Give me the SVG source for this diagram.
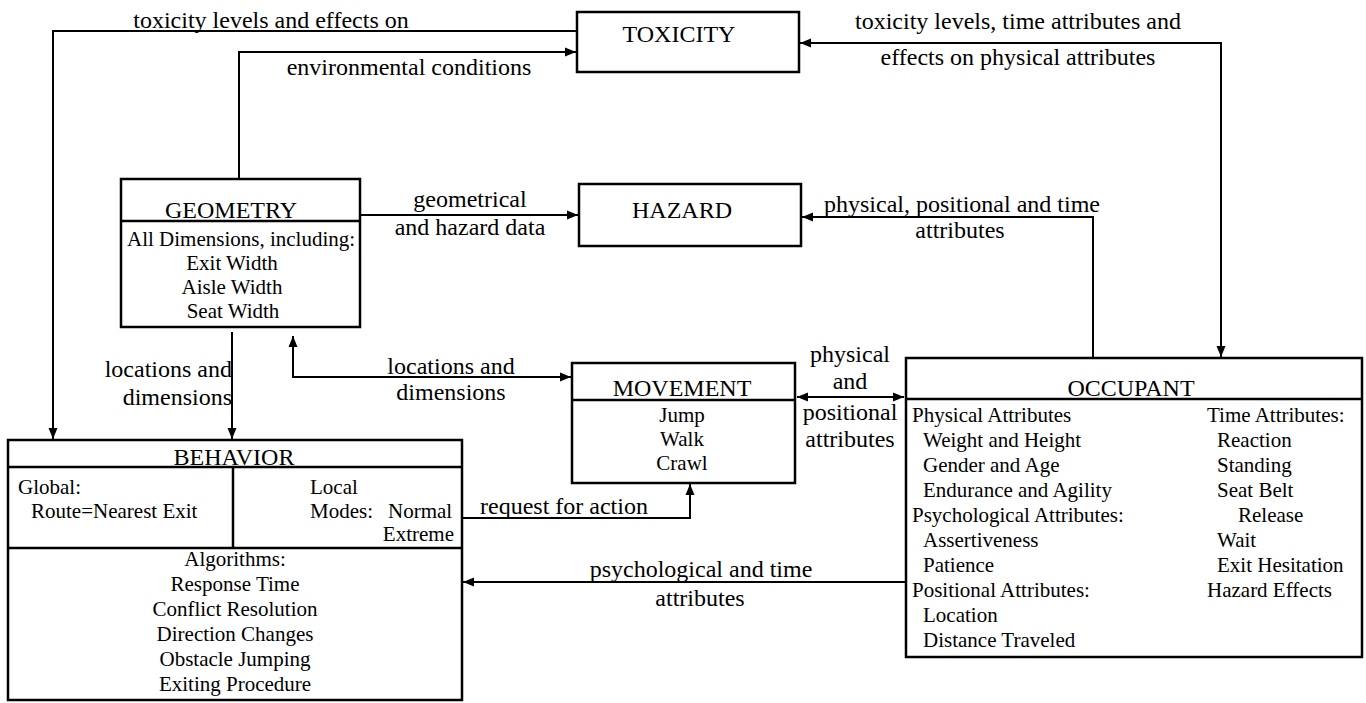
<svg xmlns="http://www.w3.org/2000/svg" width="1366" height="703" viewBox="0 0 1366 703">
<style>
text{font-family:"Liberation Serif","Times New Roman",serif;fill:#000}
.t{font-size:24px;text-anchor:middle}
.c{font-size:21px}
.m{text-anchor:middle}
.e{text-anchor:end}
.l{font-size:24px}
.box{fill:#fff;stroke:#000;stroke-width:2.5}
.div{stroke:#000;stroke-width:2.5;fill:none}
.cn{stroke:#000;stroke-width:2;fill:none}
</style>
<defs>
<marker id="ah" markerUnits="userSpaceOnUse" markerWidth="12" markerHeight="10" refX="11" refY="5" orient="auto-start-reverse">
<path d="M0,0.5 L11,5 L0,9.5 z" fill="#000"/>
</marker>
</defs>
<rect width="1366" height="703" fill="#fff"/>

<g id="connectors">
<path class="cn" d="M577,31 H53 V439" marker-end="url(#ah)"/>
<path class="cn" d="M239,179 V52 H576" marker-end="url(#ah)"/>
<path class="cn" d="M800,43 H1221 V357" marker-start="url(#ah)" marker-end="url(#ah)"/>
<path class="cn" d="M361,215 H578" marker-end="url(#ah)"/>
<path class="cn" d="M1093,358 V217 H802" marker-end="url(#ah)"/>
<path class="cn" d="M232,332 V439" marker-end="url(#ah)"/>
<path class="cn" d="M293,336 V377 H571" marker-start="url(#ah)" marker-end="url(#ah)"/>
<path class="cn" d="M797,397 H904" marker-start="url(#ah)" marker-end="url(#ah)"/>
<path class="cn" d="M463,518 H690 V484" marker-end="url(#ah)"/>
<path class="cn" d="M906,582 H463" marker-end="url(#ah)"/>
<text class="l m" x="271" y="28">toxicity levels and effects on</text>
<text class="l m" x="409" y="75">environmental conditions</text>
<text class="l m" x="1018" y="29">toxicity levels, time attributes and</text>
<text class="l m" x="1018" y="65">effects on physical attributes</text>
<text class="l m" x="470" y="207">geometrical</text>
<text class="l m" x="470" y="235">and hazard data</text>
<text class="l m" x="962" y="212">physical, positional and time</text>
<text class="l m" x="960" y="238">attributes</text>
<text class="l e" x="232" y="377">locations and</text>
<text class="l e" x="232" y="405">dimensions</text>
<text class="l m" x="451" y="374">locations and</text>
<text class="l m" x="451" y="400">dimensions</text>
<text class="l m" x="850" y="362">physical</text>
<text class="l m" x="850" y="389">and</text>
<text class="l m" x="850" y="420">positional</text>
<text class="l m" x="850" y="447">attributes</text>
<text class="l" x="480" y="514">request for action</text>
<text class="l m" x="701" y="577">psychological and time</text>
<text class="l m" x="700" y="606">attributes</text>
</g>

<g id="toxicity">
<rect class="box" x="577" y="12" width="222" height="60"/>
<text class="t" x="679" y="42">TOXICITY</text>
</g>

<g id="hazard">
<rect class="box" x="579" y="184" width="222" height="62"/>
<text class="t" x="682" y="218">HAZARD</text>
</g>

<g id="geometry">
<rect class="box" x="121" y="179" width="239" height="148"/>
<line class="div" x1="121" y1="221" x2="360" y2="221"/>
<text class="t" x="231" y="218">GEOMETRY</text>
<text class="c" x="127" y="246">All Dimensions, including:</text>
<text class="c m" x="232" y="270">Exit Width</text>
<text class="c m" x="232" y="294">Aisle Width</text>
<text class="c m" x="233" y="318">Seat Width</text>
</g>

<g id="movement">
<rect class="box" x="572" y="363" width="223" height="120"/>
<line class="div" x1="572" y1="400" x2="795" y2="400"/>
<text class="t" x="682" y="396">MOVEMENT</text>
<text class="c m" x="682" y="422">Jump</text>
<text class="c m" x="682" y="446">Walk</text>
<text class="c m" x="682" y="470">Crawl</text>
</g>

<g id="behavior">
<rect class="box" x="8" y="440" width="454" height="260"/>
<line class="div" x1="8" y1="467" x2="462" y2="467"/>
<line class="div" x1="233" y1="467" x2="233" y2="548"/>
<line class="div" x1="8" y1="548" x2="462" y2="548"/>
<text class="t" x="234" y="465">BEHAVIOR</text>
<text class="c" x="18" y="494">Global:</text>
<text class="c" x="31" y="518">Route=Nearest Exit</text>
<text class="c" x="310" y="494">Local</text>
<text class="c" x="310" y="518">Modes:</text>
<text class="c" x="388" y="518">Normal</text>
<text class="c e" x="454" y="541">Extreme</text>
<text class="c m" x="235" y="566">Algorithms:</text>
<text class="c m" x="235" y="591">Response Time</text>
<text class="c m" x="235" y="616">Conflict Resolution</text>
<text class="c m" x="235" y="641">Direction Changes</text>
<text class="c m" x="235" y="666">Obstacle Jumping</text>
<text class="c m" x="235" y="691">Exiting Procedure</text>
</g>

<g id="occupant">
<rect class="box" x="906" y="358" width="456" height="299"/>
<line class="div" x1="906" y1="399" x2="1362" y2="399"/>
<text class="t" x="1131" y="396">OCCUPANT</text>
<text class="c" x="912" y="422">Physical Attributes</text>
<text class="c" x="923" y="447">Weight and Height</text>
<text class="c" x="923" y="472">Gender and Age</text>
<text class="c" x="923" y="497">Endurance and Agility</text>
<text class="c" x="912" y="522">Psychological Attributes:</text>
<text class="c" x="923" y="547">Assertiveness</text>
<text class="c" x="923" y="572">Patience</text>
<text class="c" x="912" y="597">Positional Attributes:</text>
<text class="c" x="923" y="622">Location</text>
<text class="c" x="923" y="647">Distance Traveled</text>
<text class="c" x="1207" y="422">Time Attributes:</text>
<text class="c" x="1217" y="447">Reaction</text>
<text class="c" x="1217" y="472">Standing</text>
<text class="c" x="1217" y="497">Seat Belt</text>
<text class="c" x="1238" y="522">Release</text>
<text class="c" x="1217" y="547">Wait</text>
<text class="c" x="1217" y="572">Exit Hesitation</text>
<text class="c" x="1207" y="597">Hazard Effects</text>
</g>
</svg>
